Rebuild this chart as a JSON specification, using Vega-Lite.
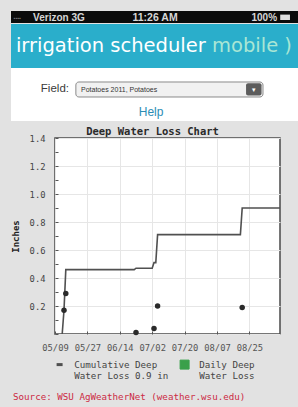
{
  "$schema": "https://vega.github.io/schema/vega-lite/v6.json",
  "background": "#e2e2e2",
  "padding": {"left": 10, "top": 11, "right": 1, "bottom": 0},
  "spacing": 0,
  "columns": 1,
  "datasets": {
    "cumulative": [
      {"date": "2011-05-13", "inches": 0},
      {"date": "2011-05-14", "inches": 0.17},
      {"date": "2011-05-15", "inches": 0.46},
      {"date": "2011-06-22", "inches": 0.46},
      {"date": "2011-06-23", "inches": 0.47},
      {"date": "2011-07-02", "inches": 0.47},
      {"date": "2011-07-03", "inches": 0.51},
      {"date": "2011-07-04", "inches": 0.51},
      {"date": "2011-07-05", "inches": 0.71},
      {"date": "2011-08-20", "inches": 0.71},
      {"date": "2011-08-21", "inches": 0.9},
      {"date": "2011-09-11", "inches": 0.9}
    ],
    "daily": [
      {"date": "2011-05-14", "inches": 0.17},
      {"date": "2011-05-15", "inches": 0.29},
      {"date": "2011-06-23", "inches": 0.01},
      {"date": "2011-07-03", "inches": 0.04},
      {"date": "2011-07-05", "inches": 0.2},
      {"date": "2011-08-21", "inches": 0.19}
    ]
  },
  "resolve": {"scale": {"color": "independent"}, "legend": {"color": "independent"}},
  "concat": [
    {
      "width": 243, "height": 12,
      "view": {"stroke": null},
      "data": {"values": [{}]},
      "layer": [
        {"mark": {"type": "rect", "color": "#0b0b0b"},
         "encoding": {
           "x": {"datum": 0, "type": "quantitative", "scale": {"domain": [0, 1], "range": [-44, 243]}, "axis": null},
           "x2": {"datum": 1},
           "y": {"datum": 0, "type": "quantitative", "scale": {"domain": [0, 1], "reverse": true}, "axis": null},
           "y2": {"datum": 1}}},
        {"mark": {"type": "text", "text": "▪▪▪▪", "align": "left", "fontSize": 5, "color": "#777777"},
         "encoding": {
           "x": {"datum": 0.01, "type": "quantitative", "scale": {"domain": [0, 1], "range": [-44, 243]}, "axis": null},
           "y": {"datum": 0.55, "type": "quantitative", "scale": {"domain": [0, 1], "reverse": true}, "axis": null}}},
        {"mark": {"type": "text", "text": "Verizon  3G", "align": "left", "font": "Liberation Sans", "fontSize": 10, "fontWeight": "bold", "color": "#d6d6d6"},
         "encoding": {
           "x": {"datum": 0.077, "type": "quantitative", "scale": {"domain": [0, 1], "range": [-44, 243]}, "axis": null},
           "y": {"datum": 0.55, "type": "quantitative", "scale": {"domain": [0, 1], "reverse": true}, "axis": null}}},
        {"mark": {"type": "text", "text": "11:26 AM", "align": "center", "font": "Liberation Sans", "fontSize": 10.5, "fontWeight": "bold", "color": "#d6d6d6"},
         "encoding": {
           "x": {"datum": 0.502, "type": "quantitative", "scale": {"domain": [0, 1], "range": [-44, 243]}, "axis": null},
           "y": {"datum": 0.55, "type": "quantitative", "scale": {"domain": [0, 1], "reverse": true}, "axis": null}}},
        {"mark": {"type": "text", "text": "100%", "align": "right", "font": "Liberation Sans", "fontSize": 10, "fontWeight": "bold", "color": "#d6d6d6"},
         "encoding": {
           "x": {"datum": 0.927, "type": "quantitative", "scale": {"domain": [0, 1], "range": [-44, 243]}, "axis": null},
           "y": {"datum": 0.55, "type": "quantitative", "scale": {"domain": [0, 1], "reverse": true}, "axis": null}}},
        {"mark": {"type": "rect", "color": "#dddddd"},
         "encoding": {
           "x": {"datum": 0.938, "type": "quantitative", "scale": {"domain": [0, 1], "range": [-44, 243]}, "axis": null},
           "x2": {"datum": 0.972},
           "y": {"datum": 0.3, "type": "quantitative", "scale": {"domain": [0, 1], "reverse": true}, "axis": null},
           "y2": {"datum": 0.75}}}
      ]
    },
    {
      "width": 243, "height": 44,
      "view": {"stroke": null},
      "data": {"values": [{}]},
      "layer": [
        {"mark": {"type": "rect", "color": "#2aaecb"},
         "encoding": {
           "x": {"datum": 0, "type": "quantitative", "scale": {"domain": [0, 1], "range": [-44, 243]}, "axis": null},
           "x2": {"datum": 1},
           "y": {"datum": 0, "type": "quantitative", "scale": {"domain": [0, 1], "reverse": true}, "axis": null},
           "y2": {"datum": 1}}},
        {"mark": {"type": "text", "text": "irrigation scheduler", "align": "left", "font": "DejaVu Sans", "fontSize": 19.5, "color": "#ffffff"},
         "encoding": {
           "x": {"datum": 0.017, "type": "quantitative", "scale": {"domain": [0, 1], "range": [-44, 243]}, "axis": null},
           "y": {"datum": 0.5, "type": "quantitative", "scale": {"domain": [0, 1], "reverse": true}, "axis": null}}},
        {"mark": {"type": "text", "text": "mobile )", "align": "right", "font": "DejaVu Sans", "fontSize": 19.5, "color": "#a9e6d5"},
         "encoding": {
           "x": {"datum": 0.979, "type": "quantitative", "scale": {"domain": [0, 1], "range": [-44, 243]}, "axis": null},
           "y": {"datum": 0.5, "type": "quantitative", "scale": {"domain": [0, 1], "reverse": true}, "axis": null}}}
      ]
    },
    {
      "width": 243, "height": 53,
      "view": {"stroke": null},
      "data": {"values": [{}]},
      "layer": [
        {"mark": {"type": "rect", "color": "#ffffff"},
         "encoding": {
           "x": {"datum": 0, "type": "quantitative", "scale": {"domain": [0, 1], "range": [-44, 243]}, "axis": null},
           "x2": {"datum": 1},
           "y": {"datum": 0, "type": "quantitative", "scale": {"domain": [0, 1], "reverse": true}, "axis": null},
           "y2": {"datum": 1}}},
        {"mark": {"type": "text", "text": "Field:", "align": "right", "font": "Liberation Sans", "fontSize": 11.5, "color": "#3a3a3a"},
         "encoding": {
           "x": {"datum": 0.202, "type": "quantitative", "scale": {"domain": [0, 1], "range": [-44, 243]}, "axis": null},
           "y": {"datum": 0.4, "type": "quantitative", "scale": {"domain": [0, 1], "reverse": true}, "axis": null}}},
        {"mark": {"type": "rect", "fill": "#f1f1f1", "stroke": "#8a8a8a", "strokeWidth": 1, "cornerRadius": 3},
         "encoding": {
           "x": {"datum": 0.226, "type": "quantitative", "scale": {"domain": [0, 1], "range": [-44, 243]}, "axis": null},
           "x2": {"datum": 0.878},
           "y": {"datum": 0.264, "type": "quantitative", "scale": {"domain": [0, 1], "reverse": true}, "axis": null},
           "y2": {"datum": 0.547}}},
        {"mark": {"type": "rect", "fill": "#5c5c5c", "cornerRadius": 2},
         "encoding": {
           "x": {"datum": 0.819, "type": "quantitative", "scale": {"domain": [0, 1], "range": [-44, 243]}, "axis": null},
           "x2": {"datum": 0.873},
           "y": {"datum": 0.29, "type": "quantitative", "scale": {"domain": [0, 1], "reverse": true}, "axis": null},
           "y2": {"datum": 0.52}}},
        {"mark": {"type": "text", "text": "Potatoes 2011, Potatoes", "align": "left", "font": "Liberation Sans", "fontSize": 7, "color": "#333333"},
         "encoding": {
           "x": {"datum": 0.244, "type": "quantitative", "scale": {"domain": [0, 1], "range": [-44, 243]}, "axis": null},
           "y": {"datum": 0.41, "type": "quantitative", "scale": {"domain": [0, 1], "reverse": true}, "axis": null}}},
        {"mark": {"type": "text", "text": "▼", "align": "center", "fontSize": 6, "color": "#ffffff"},
         "encoding": {
           "x": {"datum": 0.846, "type": "quantitative", "scale": {"domain": [0, 1], "range": [-44, 243]}, "axis": null},
           "y": {"datum": 0.41, "type": "quantitative", "scale": {"domain": [0, 1], "reverse": true}, "axis": null}}},
        {"mark": {"type": "text", "text": "Help", "align": "center", "font": "Liberation Sans", "fontSize": 12, "color": "#2b8db5"},
         "encoding": {
           "x": {"datum": 0.488, "type": "quantitative", "scale": {"domain": [0, 1], "range": [-44, 243]}, "axis": null},
           "y": {"datum": 0.83, "type": "quantitative", "scale": {"domain": [0, 1], "reverse": true}, "axis": null}}}
      ]
    },
    {
      "width": 225, "height": 196,
      "title": {"text": ["", "Deep Water Loss Chart"], "lineHeight": 4, "font": "DejaVu Sans Mono", "fontSize": 10.5, "fontWeight": "bold", "color": "#2a2a2a", "offset": -3, "dx": -15, "anchor": "middle"},
      "view": {"fill": "#ffffff", "stroke": "#4a4a4a", "strokeWidth": 1.5},
      "encoding": {
        "x": {
          "field": "date", "type": "temporal",
          "scale": {"type": "utc", "nice": false, "domain": [{"year": 2011, "month": 5, "date": 9, "utc": true}, {"year": 2011, "month": 9, "date": 11, "utc": true}]},
          "axis": {
            "title": null, "format": "%m/%d", "domain": false, "labelFlush": false, "labelOverlap": false,
            "values": [
              {"year": 2011, "month": 5, "date": 9, "utc": true},
              {"year": 2011, "month": 5, "date": 27, "utc": true},
              {"year": 2011, "month": 6, "date": 14, "utc": true},
              {"year": 2011, "month": 7, "date": 2, "utc": true},
              {"year": 2011, "month": 7, "date": 20, "utc": true},
              {"year": 2011, "month": 8, "date": 7, "utc": true},
              {"year": 2011, "month": 8, "date": 25, "utc": true}
            ],
            "labelFont": "DejaVu Sans Mono", "labelFontSize": 8.8, "labelColor": "#555555",
            "tickSize": -3, "tickColor": "#555555", "labelPadding": 12,
            "grid": true, "gridColor": "#e6e6e6"
          }
        },
        "y": {
          "field": "inches", "type": "quantitative",
          "scale": {"domain": [0, 1.4], "nice": false},
          "axis": {
            "title": "Inches", "titleFont": "DejaVu Sans Mono", "titleFontSize": 9, "titleFontWeight": "bold", "titleColor": "#222222", "titlePadding": 9,
            "values": [0, 0.1, 0.2, 0.3, 0.4, 0.5, 0.6, 0.7, 0.8, 0.9, 1.0, 1.1, 1.2, 1.3, 1.4],
            "labelExpr": "datum.value < 0.05 || round(datum.value * 10) % 2 == 1 ? '' : format(datum.value, '.1f')",
            "domain": false, "labelFont": "DejaVu Sans Mono", "labelFontSize": 8.8, "labelColor": "#444444",
            "tickSize": -3, "tickColor": "#555555", "labelPadding": 13,
            "grid": true, "gridColor": "#e6e6e6",
            "gridOpacity": {"condition": {"test": "round(datum.value * 10) % 2 == 1", "value": 0}, "value": 1}
          }
        }
      },
      "layer": [
        {
          "data": {"name": "cumulative"},
          "mark": {"type": "line", "strokeWidth": 1.6},
          "encoding": {
            "color": {
              "datum": "Cumulative", "type": "nominal",
              "scale": {"domain": ["Cumulative", "Daily"], "range": ["#505050", "#3aa04a"]},
              "legend": {
                "orient": "bottom", "direction": "horizontal", "title": null, "offset": 8, "padding": 0,
                "labelFont": "DejaVu Sans Mono", "labelFontSize": 9.2, "labelColor": "#444444",
                "labelExpr": "datum.value == 'Daily' ? ['Daily Deep', 'Water Loss'] : ['Cumulative Deep', 'Water Loss 0.9 in']",
                "labelOffset": 10, "columnPadding": 9, "symbolSize": 81, "labelLimit": 200,
                "encode": {"symbols": {"update": {
                  "shape": {"signal": "datum.value == 'Daily' ? 'square' : 'stroke'"},
                  "size": {"signal": "datum.value == 'Daily' ? 81 : 36"},
                  "fill": {"signal": "datum.value == 'Daily' ? '#3aa04a' : 'transparent'"},
                  "strokeWidth": {"signal": "datum.value == 'Daily' ? 1 : 3"},
                  "opacity": {"value": 1}
                }}}
              }
            }
          }
        },
        {
          "data": {"name": "daily"},
          "mark": {"type": "point", "filled": true, "size": 30, "opacity": 1, "color": "#2a2a2a"},
          "encoding": {}
        }
      ]
    },
    {
      "width": 243, "height": 30,
      "view": {"stroke": null},
      "data": {"values": [{}]},
      "mark": {"type": "text", "text": "Source: WSU AgWeatherNet (weather.wsu.edu)", "align": "left", "font": "DejaVu Sans Mono", "fontSize": 9.2, "color": "#cc2a44"},
      "encoding": {
        "x": {"datum": 0.007, "type": "quantitative", "scale": {"domain": [0, 1], "range": [-44, 243]}, "axis": null},
        "y": {"datum": 0.5, "type": "quantitative", "scale": {"domain": [0, 1], "reverse": true}, "axis": null}
      }
    }
  ]
}
